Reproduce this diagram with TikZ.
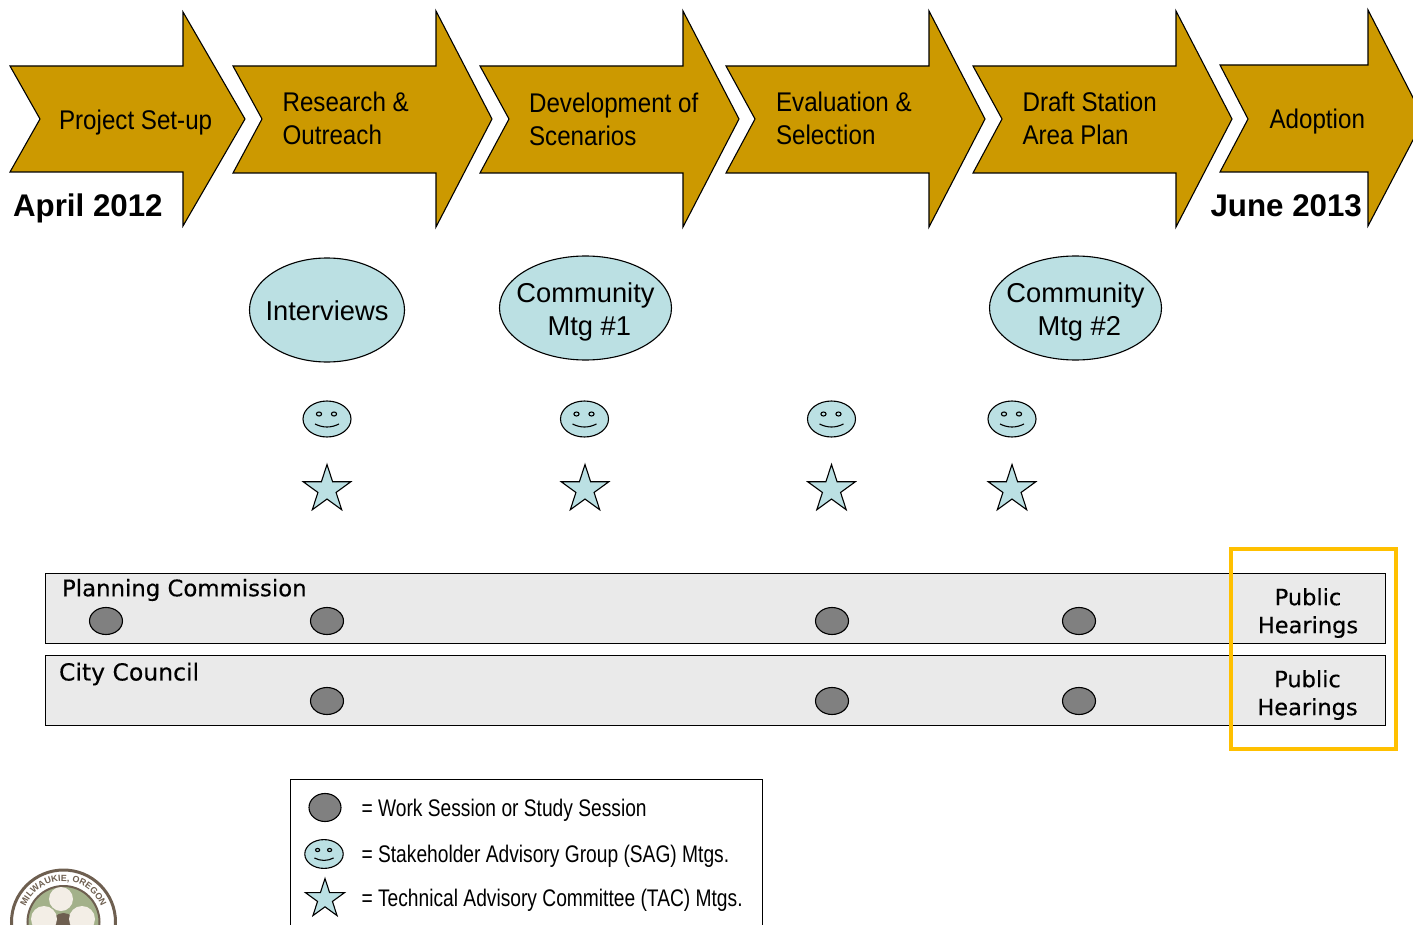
\documentclass[tikz,border=0pt]{standalone}
\usepackage{fontspec}
\setmainfont{Liberation Sans}
\newfontfamily\narrowfont[FakeStretch=0.895]{Liberation Sans}
\newfontfamily\legendfont[FakeStretch=0.8]{Liberation Sans}
\newfontfamily\barfont[FakeBold=0.3]{DejaVu Sans}
\usetikzlibrary{positioning, shapes.geometric, decorations.text}
\definecolor{gold}{HTML}{CC9900}
\definecolor{paleblue}{HTML}{BBE0E3}
\definecolor{bargray}{HTML}{EAEAEA}
\definecolor{dotgray}{HTML}{808080}
\definecolor{frameyellow}{HTML}{FFC000}
\definecolor{sealbrown}{HTML}{6E5F50}
\definecolor{sealgreen}{HTML}{A3B18A}
\definecolor{sealpetal}{HTML}{F3EEE6}
\tikzset{
    smiley/.pic = {
        \draw[fill = paleblue, line width = 1.1pt] (0,0) ellipse [x radius = 24, y radius = 18];
        \draw[line width = 1.1pt] (-8,-5) ellipse [x radius = 2.6, y radius = 2];
        \draw[line width = 1.1pt] (7,-5) ellipse [x radius = 2.6, y radius = 2];
        \draw[line width = 1.1pt] (-12,5) .. controls (-4,9) and (4,9) .. (12,5);
    }
}
\begin{document}
\begin{tikzpicture}[
            x = 1pt,
            y = -1pt,
            line width = 1.1pt,
        ]
\tikzstyle{stagetext}=[
            font = \fontsize{27}{33}\selectfont\narrowfont,
            align = left,
            anchor = west,
            inner sep = 0pt
        ]
\tikzstyle{datetext}=[
            font = \fontsize{31.3}{36}\selectfont\bfseries,
            anchor = west,
            inner sep = 0pt
        ]
\tikzstyle{meeting}=[
            shape = ellipse,
            draw = black,
            fill = paleblue,
            inner sep = 0pt,
            minimum height = 104pt
        ]
\tikzstyle{meetingtext}=[
            align = center,
            inner sep = 0pt,
            font = \fontsize{27.3}{33}\selectfont
        ]
\tikzstyle{tacstar}=[
            shape = star,
            star points = 5,
            star point ratio = 2.618,
            draw = black,
            fill = paleblue,
            inner sep = 0pt,
            minimum size = 50pt
        ]
\tikzstyle{session}=[
            shape = ellipse,
            draw = black,
            fill = dotgray,
            inner sep = 0pt,
            minimum width = 33pt,
            minimum height = 27pt
        ]
\tikzstyle{band}=[
            shape = rectangle,
            draw = black,
            line width = 1pt,
            fill = bargray,
            inner sep = 0pt,
            outer sep = 0pt,
            minimum width = 1340pt,
            minimum height = 70pt,
            anchor = north west
        ]
\tikzstyle{bandtext}=[
            font = \fontsize{23.5}{27}\selectfont\barfont,
            anchor = west,
            inner sep = 0pt
        ]
\tikzstyle{hearingtext}=[
            font = \fontsize{22.5}{28}\selectfont\barfont,
            align = center,
            inner sep = 0pt
        ]
\tikzstyle{legendtext}=[
            font = \fontsize{24}{28}\selectfont\legendfont,
            anchor = west,
            inner sep = 0pt
        ]
\clip[use as bounding box] (0,0) rectangle (1413,925);
% timeline arrows
\foreach \lft/\nck/\tip/\ntop/\nbot/\ttop/\tbot/\ins in {
        10/183/245/66/172/12/226/40,
        233/436/492/66/173/11/227/262,
        480/683/739/66/173/11/227/509,
        726/929/985/66/173/11/227/755,
        973/1176/1232/66/173/11/227/1002,
        1220/1368/1424/65/172/10/226/1248} {
    \draw[fill = gold] (\lft,\ntop) -- (\nck,\ntop) -- (\nck,\ttop) -- (\tip,119)
        -- (\nck,\tbot) -- (\nck,\nbot) -- (\lft,\nbot) -- (\ins,119) -- cycle;
}
\node[stagetext] (setup) at (58.5,123) {Project Set-up};
\node[stagetext] (research) at (282,118) {Research \&\\Outreach};
\node[stagetext] (scenarios) at (528.5,119) {Development of\\Scenarios};
\node[stagetext] (selection) at (775.5,118) {Evaluation \&\\Selection};
\node[stagetext] (draftplan) at (1022,118) {Draft Station\\Area Plan};
\node[stagetext] (adoption) at (1269,122) {Adoption};
\node[datetext] (start) at (12.5,208) {April 2012};
\node[datetext] (finish) at (1210,206) {June 2013};
% outreach events
\node[meeting, minimum width = 155pt] (interviews) at (327,310) {};
\node[meeting, minimum width = 172pt] (mtgone) at (585.5,308) {};
\node[meeting, minimum width = 172pt] (mtgtwo) at (1075.5,308) {};
\node[meetingtext] (interviewstext) at (327,311) {Interviews};
\node[meetingtext] (mtgonetext) at (585.5,312) {Community\\\ Mtg \#1};
\node[meetingtext] (mtgtwotext) at (1075.5,312) {Community\\\ Mtg \#2};
\foreach \x in {327, 584.5, 831.5, 1012} {
    \pic at (\x,419) {smiley};
}
\foreach \x/\nm in {327/a, 585/b, 831.5/c, 1012/d} {
    \node[tacstar] (star\nm) at (\x,489.5) {};
}
% commission and council
\node[band] (commission) at (45,573) {};
\node[band] (council) at (45,655) {};
\node[bandtext, font = \fontsize{22.8}{27}\selectfont\barfont] (commissionlabel) at (61.5,590) {Planning Commission};
\node[bandtext] (councillabel) at (58.5,674) {City Council};
\foreach \x/\nm in {106/a, 327/b, 832/c, 1079/d} {
    \node[session] (pc\nm) at (\x,621) {};
}
\foreach \x/\nm in {327/b, 832/c, 1079/d} {
    \node[session] (cc\nm) at (\x,701) {};
}
\node[hearingtext] (hearingsone) at (1308,613) {Public\hspace{9pt}\\Hearings};
\node[hearingtext] (hearingstwo) at (1307.5,695) {Public\hspace{9pt}\\Hearings};
\node[draw = frameyellow, line width = 4pt, inner sep = 0pt, outer sep = 0pt, minimum width = 165pt,
        minimum height = 200pt, anchor = north west] (hearingframe) at (1231,549) {};
% legend
\node[draw = black, line width = 1pt, fill = white, inner sep = 0pt, outer sep = 0pt, minimum width = 472pt,
        minimum height = 200pt, anchor = north west] (legendbox) at (290,779) {};
\node[session, minimum width = 32pt, minimum height = 28pt] (keysession) at (325,807.5) {};
\pic[scale = 0.8] at (324,854) {smiley};
\node[tacstar, minimum size = 41pt] (keystar) at (325,899) {};
\node[legendtext] (keyone) at (361,810) {= Work Session or Study Session};
\node[legendtext] (keytwo) at (361,856) {= Stakeholder Advisory Group (SAG) Mtgs.};
\node[legendtext] (keythree) at (361,900) {= Technical Advisory Committee (TAC) Mtgs.};
% seal
\draw[draw = sealbrown, fill = white, line width = 3pt] (63.5,922) circle (52);
\draw[draw = sealbrown, fill = sealgreen, line width = 2pt] (63.5,922) circle (36);
\fill[sealbrown] (63.5,925) circle (12);
\fill[sealpetal] (61,899) circle (12) (44,919) circle (13) (82,919) circle (13);
\path[decorate, decoration = {text along path, text align = center,
        text = {|\fontsize{9}{9}\selectfont\bfseries\color{sealbrown}|MILWAUKIE, OREGON}}]
    (23,918) arc[start angle = 185, end angle = 355, radius = 40.5];
\end{tikzpicture}
\end{document}
